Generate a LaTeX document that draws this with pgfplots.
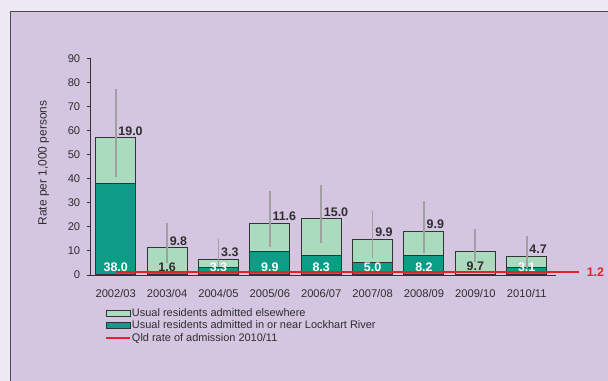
\documentclass[border=0pt]{standalone}
\usepackage{fontspec}
\setmainfont{Liberation Sans}
\usepackage{pgfplots}
\pgfplotsset{compat=1.18}
\definecolor{outerbg}{HTML}{EEEAF4}
\definecolor{panelbg}{HTML}{D4C5E1}
\definecolor{panelbd}{HTML}{4E4856}
\definecolor{tealc}{HTML}{0E9B87}
\definecolor{lightg}{HTML}{AADBBF}
\definecolor{bordc}{HTML}{333333}
\definecolor{errc}{HTML}{A0A0A0}
\definecolor{redc}{HTML}{E3222B}
\definecolor{txt}{HTML}{2E2E2E}
\pgfplotsset{
  base/.style={scale only axis, width=465.3bp, height=216.7bp,
    xmin=-0.487, xmax=8.57, ymin=0, ymax=90, clip=false,
    at={(90.7bp,106bp)}, anchor=south west},
  legL/.style={legend image code/.code={\draw[fill=lightg, draw=bordc, line width=0.9bp] (0bp,-2.8bp) rectangle (24bp,2.8bp);}},
  legD/.style={legend image code/.code={\draw[fill=tealc, draw=bordc, line width=0.9bp] (0bp,-2.8bp) rectangle (24bp,2.8bp);}},
  legR/.style={legend image code/.code={\draw[redc, line width=2.2bp] (0bp,0bp) -- (24bp,0bp);}},
}
\begin{document}
\begin{tikzpicture}
\path[use as bounding box] (0,0) rectangle (608bp,381bp);
\fill[outerbg] (0,0) rectangle (608bp,381bp);
\fill[panelbg] (10.5bp,-5bp) rectangle (615bp,369.5bp);
\draw[panelbd, line width=1.6bp] (10.5bp,-5bp) -- (10.5bp,369.5bp) -- (615bp,369.5bp);

\begin{axis}[base,
  ybar stacked, bar width=40bp,
  axis lines=left, axis line style={bordc, line width=0.9bp, -},
  xtick={0,...,8},
  xticklabels={2002/03,2003/04,2004/05,2005/06,2006/07,2007/08,2008/09,2009/10,2010/11},
  x tick style={draw=none},
  ytick={0,10,...,90},
  y tick style={bordc, line width=0.9bp},
  tick align=outside, major tick length=4bp,
  ticklabel style={font=\fontsize{11.2}{13}\selectfont, text=txt},
  /pgf/number format/assume math mode=true,
  xticklabel style={yshift=-6.5bp},
  yticklabel style={xshift=-3bp},
  ylabel={Rate per 1,000 persons},
  every axis y label/.style={at={(axis description cs:-0.101,0.5168)}, rotate=90, anchor=center, font=\fontsize{12}{14}\selectfont, text=txt},
]
\addplot[fill=tealc, draw=bordc, line width=1bp] coordinates {(0,38.0) (1,1.6) (2,3.3) (3,9.9) (4,8.3) (5,5.0) (6,8.2) (7,0) (8,3.1)};
\addplot[fill=lightg, draw=bordc, line width=1bp] coordinates {(0,19.0) (1,9.8) (2,3.3) (3,11.6) (4,15.0) (5,9.9) (6,9.9) (7,9.7) (8,4.7)};
\end{axis}

\begin{axis}[base, hide axis,
  legend style={at={(axis description cs:0.0307,-0.152)}, anchor=north west, draw=none, fill=none, inner sep=0pt, row sep=1.6bp, font=\fontsize{11}{12}\selectfont, text=txt, nodes={inner sep=0.6bp}},
  legend cell align=left,
]
\addplot[redc, line width=2.2bp, forget plot] coordinates {(0,1.2) (9.02,1.2)};
\addplot[errc, line width=1.8bp, unbounded coords=jump, forget plot] coordinates {
 (0,40.6) (0,77.1) (0,nan)
 (1,5.1) (1,21.6) (1,nan)
 (2,3.5) (2,15.0) (2,nan)
 (3,11.8) (3,35.0) (3,nan)
 (4,13.2) (4,37.4) (4,nan)
 (5,6.9) (5,26.5) (5,nan)
 (6,9.3) (6,30.7) (6,nan)
 (7,5.5) (7,19.3) (7,nan)
 (8,3.0) (8,16.2)};
\addplot[only marks, mark=*, mark size=0pt, mark options={draw=none, fill=none}, forget plot,
  nodes near coords, point meta=explicit symbolic,
  every node near coord/.style={anchor=base west, xshift=2.5bp, yshift=2.5bp, inner sep=0pt, font=\fontsize{12.5}{14}\selectfont\bfseries, text=txt}]
  table[x=x, y=y, meta=l, row sep=\\] {x y l\\ 0 57.0 19.0\\ 1 11.4 9.8\\ 2 6.6 3.3\\ 3 21.5 11.6\\ 4 23.3 15.0\\ 5 14.9 9.9\\ 6 18.1 9.9\\ 8 7.8 4.7\\};
\addplot[only marks, mark=*, mark size=0pt, mark options={draw=none, fill=none}, forget plot,
  nodes near coords, point meta=explicit symbolic,
  every node near coord/.style={anchor=center, inner sep=0pt, font=\fontsize{12.5}{14}\selectfont\bfseries, text=white}]
  table[x=x, y=y, meta=l, row sep=\\] {x y l\\ 0 3.4 38.0\\ 2 3.4 3.3\\ 3 3.4 9.9\\ 4 3.4 8.3\\ 5 3.4 5.0\\ 6 3.4 8.2\\ 8 3.4 3.1\\};
\addplot[only marks, mark=*, mark size=0pt, mark options={draw=none, fill=none}, forget plot,
  nodes near coords, point meta=explicit symbolic,
  every node near coord/.style={anchor=center, inner sep=0pt, font=\fontsize{12.5}{14}\selectfont\bfseries, text=txt}]
  table[x=x, y=y, meta=l, row sep=\\] {x y l\\ 1 3.4 1.6\\ 7 3.8 9.7\\};
\addplot[only marks, mark=*, mark size=0pt, mark options={draw=none, fill=none}, forget plot,
  nodes near coords, point meta=explicit symbolic,
  every node near coord/.style={anchor=west, xshift=7.5bp, inner sep=0pt, font=\fontsize{12.5}{14}\selectfont\bfseries, text=redc}]
  table[x=x, y=y, meta=l, row sep=\\] {x y l\\ 9.02 1.2 1.2\\};
\addlegendimage{legL}\addlegendentry{Usual residents admitted elsewhere}
\addlegendimage{legD}\addlegendentry{Usual residents admitted in or near Lockhart River}
\addlegendimage{legR}\addlegendentry{Qld rate of admission 2010/11}
\end{axis}
\end{tikzpicture}
\end{document}
